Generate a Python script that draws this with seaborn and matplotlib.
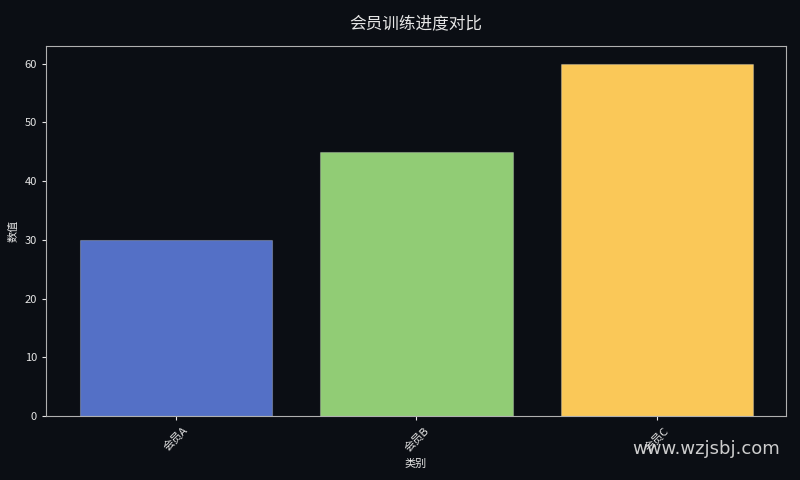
import matplotlib
matplotlib.use("Agg")
import matplotlib.pyplot as plt
import seaborn as sns
import pandas as pd

# --- data ---
categories = ["会员A", "会员B", "会员C"]
values = [30, 45, 60]
colors = ["#5470c6", "#91cc75", "#fac858"]

BG = "#0b0e14"
FG = "#e6e6e6"

sns.set_style("dark")
plt.rcParams['font.family'] = ['Noto Sans CJK SC', 'DejaVu Sans']
plt.rcParams['axes.unicode_minus'] = False

df = pd.DataFrame({"类别": categories, "数值": values})

fig, ax = plt.subplots(figsize=(8, 4.8), dpi=100)
fig.patch.set_facecolor(BG)
ax.set_facecolor(BG)

sns.barplot(data=df, x="类别", y="数值", hue="类别", palette=colors,
            legend=False, width=0.8, edgecolor=(1, 1, 1, 0.25), linewidth=0.8,
            saturation=1, ax=ax)

ax.set_xlim(-0.54, 2.536)
ax.set_ylim(0, 63)
ax.set_title("会员训练进度对比", color=FG, fontsize=12, pad=13)
ax.set_xlabel("类别", color=FG, fontsize=8)
ax.set_ylabel("数值", color=FG, fontsize=8)
ax.tick_params(colors=FG, labelsize=8, length=3, bottom=True, left=True)
plt.setp(ax.get_xticklabels(), rotation=45)
for s in ax.spines.values():
    s.set_color("#b0b0b0")
    s.set_visible(True)
ax.grid(False)

fig.subplots_adjust(left=0.0575, right=0.9825, top=0.904, bottom=0.133)

fig.text(0.975, 0.065, "www.wzjsbj.com", color="#d8d8d8", fontsize=13,
         ha="right", va="center", family=["DejaVu Sans"], alpha=0.95)

plt.savefig("out.png", dpi=100, facecolor=BG)
